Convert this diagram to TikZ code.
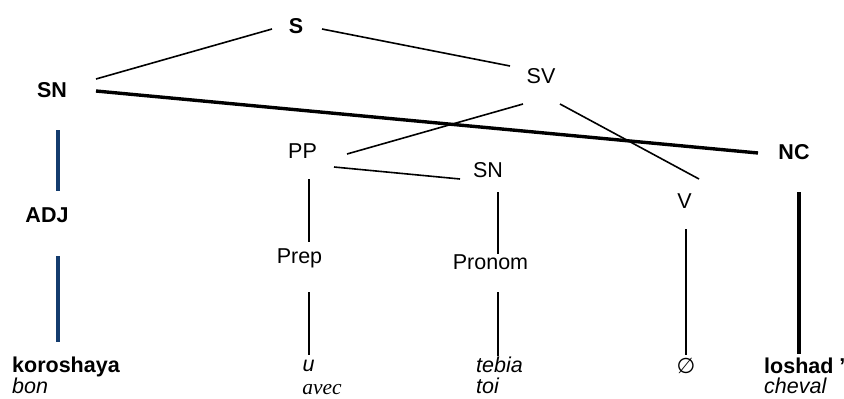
\documentclass[tikz,border=0pt]{standalone}
\usepackage{fontspec}
\setmainfont{Liberation Sans}
\newfontfamily\timesfont{Liberation Serif}
\newfontfamily\symbfont{DejaVu Sans}
\usepackage{tikz}
\usetikzlibrary{calc}
\definecolor{navy}{RGB}{20,60,110}

\tikzset{
    lbl/.style={inner sep=0pt, anchor=base, font=\fontsize{21.5}{24}\selectfont},
    word/.style={lbl, anchor=base west},
    thinline/.style={line width=1.6pt},
    heavyline/.style={line width=3.8pt},
    blueline/.style={line width=3.5pt, draw=navy}
}

\begin{document}
\begin{tikzpicture}[x=1pt, y=-1pt]
    \useasboundingbox (0,0) rectangle (844,399);

    % ---------------- Categories ----------------
    \node[lbl, font=\fontsize{21.5}{24}\selectfont\bfseries] (S) at (296,33) {S};
    \node[lbl, font=\fontsize{21.5}{24}\selectfont\bfseries] (SN) at (52,97) {SN};
    \node[lbl] (SV) at (541,83) {SV};
    \node[lbl, font=\fontsize{21.5}{24}\selectfont\bfseries] (NC) at (794,159) {NC};
    \node[lbl] (PP) at (302.5,158) {PP};
    \node[lbl] (SNp) at (488,177) {SN};
    \node[lbl] (V) at (684.5,208) {V};
    \node[lbl, font=\fontsize{21.5}{24}\selectfont\bfseries] (ADJ) at (47,222) {ADJ};
    \node[lbl] (Prep) at (299.5,263) {Prep};
    \node[lbl] (Pronom) at (490.5,269) {Pronom};

    % ---------------- Words ----------------
    \node[word, font=\fontsize{21.5}{24}\selectfont\bfseries] (koroshaya) at (12,372) {koroshaya};
    \node[word, font=\fontsize{21.5}{24}\selectfont\itshape] (bon) at (12,393) {bon};
    \node[lbl, font=\fontsize{21.5}{24}\selectfont\itshape] (u) at (308.5,371) {u};
    \node[lbl, font=\fontsize{21.5}{24}\selectfont\timesfont\itshape] (avec) at (322,394.5) {avec};
    \node[word, font=\fontsize{21.5}{24}\selectfont\itshape] (tebia) at (476,372) {tebia};
    \node[word, font=\fontsize{21.5}{24}\selectfont\itshape] (toi) at (476,393) {toi};
    \node[inner sep=0pt, font=\fontsize{21.5}{24}\selectfont\symbfont] (empty) at (686,366) {∅};
    \node[word, font=\fontsize{21.5}{24}\selectfont\bfseries] (loshad) at (764,373) {loshad ’};
    \node[word, font=\fontsize{21.5}{24}\selectfont\itshape] (cheval) at (764,393) {cheval};

    % ---------------- Branches ----------------
    \draw[thinline] ($(SN.base)+(44,-18)$) -- ($(S.base)+(-24,-4)$);
    \draw[thinline] ($(S.base)+(26,-4)$) -- ($(SV.base)+(-31,-17)$);
    \draw[heavyline, line width=3.4pt] ($(SN.base)+(44,-6)$) -- ($(NC.base)+(-36,-6)$);
    \draw[thinline] ($(SV.base)+(-18,21)$) -- ($(PP.base)+(44.5,-4)$);
    \draw[thinline] ($(SV.base)+(19,21)$) -- ($(V.base)+(14.5,-29)$);
    \draw[thinline] ($(PP.base)+(31.5,9)$) -- ($(SNp.base)+(-28,2)$);
    \draw[thinline] ($(PP.base)+(6.5,21)$) -- ($(Prep.base)+(9.5,-21)$);
    \draw[thinline] ($(Prep.base)+(9.5,29)$) -- ($(u.base)+(0.5,-16)$);
    \draw[thinline] ($(SNp.base)+(10,15)$) -- ($(Pronom.base)+(7.5,-15)$);
    \draw[thinline] ($(Pronom.base)+(7.5,23)$) -- ($(tebia.base west)+(22,-16)$);
    \draw[thinline] ($(V.base)+(1.5,21)$) -- ($(empty.center)+(0,-11)$);
    \draw[heavyline] ($(NC.base)+(5,33)$) -- ($(loshad.base west)+(35,-19)$);

    % ---------------- Blue links ----------------
    \draw[blueline] ($(SN.base)+(6,33)$) -- ($(ADJ.base)+(11,-31)$);
    \draw[blueline] ($(ADJ.base)+(11,34)$) -- ($(koroshaya.base west)+(46,-30)$);

\end{tikzpicture}
\end{document}
